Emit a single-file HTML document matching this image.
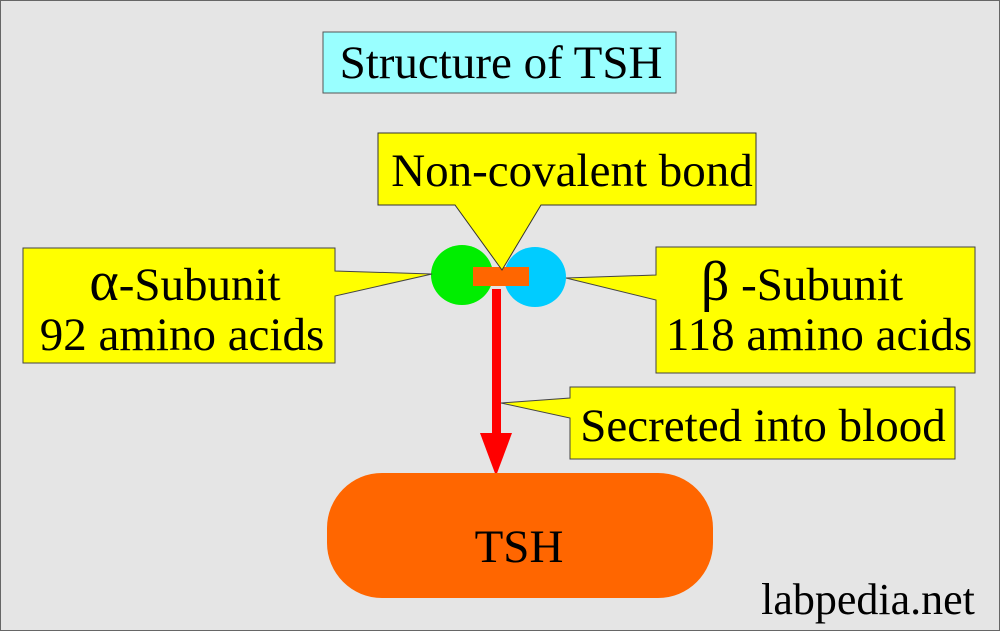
<!DOCTYPE html>
<html><head><meta charset="utf-8"><style>
html,body{margin:0;padding:0;background:#e5e5e5;}
svg{display:block;}
text{font-family:"Liberation Serif",serif;fill:#000;}
</style></head><body>
<svg width="1000" height="631" viewBox="0 0 1000 631" xmlns="http://www.w3.org/2000/svg">
<rect x="0.5" y="0.5" width="999" height="630" fill="#e5e5e5" stroke="#666" stroke-width="1"/>
<rect x="323" y="32" width="353" height="61" fill="#99ffff" stroke="#555" stroke-width="1"/>
<text x="501" y="78" font-size="47" text-anchor="middle">Structure of TSH</text>

<ellipse cx="462" cy="275" rx="31" ry="30" fill="#00ee00"/>
<ellipse cx="535" cy="277" rx="31" ry="30" fill="#00ccff"/>
<rect x="473" y="267" width="56" height="19" fill="#ff6600"/>

<path d="M378 133 H756 V205 H541 L502 270 L455 205 H378 Z" fill="#ffff00" stroke="#333" stroke-width="1"/>
<text x="572" y="186" font-size="47" text-anchor="middle">Non-covalent bond</text>

<path d="M23 248 H335 V271 L432 274 L335 296 V363 H23 Z" fill="#ffff00" stroke="#444" stroke-width="1"/>
<text x="185" y="300" font-size="47" text-anchor="middle"><tspan font-size="56">α</tspan>-Subunit</text>
<text x="182" y="350" font-size="47" text-anchor="middle">92 amino acids</text>

<path d="M656 247 H975 V373 H656 V300 L566 278 L656 275 Z" fill="#ffff00" stroke="#444" stroke-width="1"/>
<text x="802" y="300" font-size="47" text-anchor="middle"><tspan font-size="56">β</tspan> -Subunit</text>
<text x="819" y="350" font-size="47" text-anchor="middle">118 amino acids</text>

<rect x="492" y="289" width="9" height="146" fill="#ff0000"/>
<polygon points="480,433 512,433 496,476" fill="#ff0000"/>

<path d="M570 387 H955 V459 H570 V418 L501 403 L570 398 Z" fill="#ffff00" stroke="#444" stroke-width="1"/>
<text x="763" y="441" font-size="47" text-anchor="middle">Secreted into blood</text>

<rect x="327" y="473" width="386" height="125" rx="55" ry="55" fill="#ff6600"/>
<text x="519" y="562" font-size="47" text-anchor="middle">TSH</text>

<text x="868" y="614" font-size="44" text-anchor="middle">labpedia.net</text>
</svg>
</body></html>
